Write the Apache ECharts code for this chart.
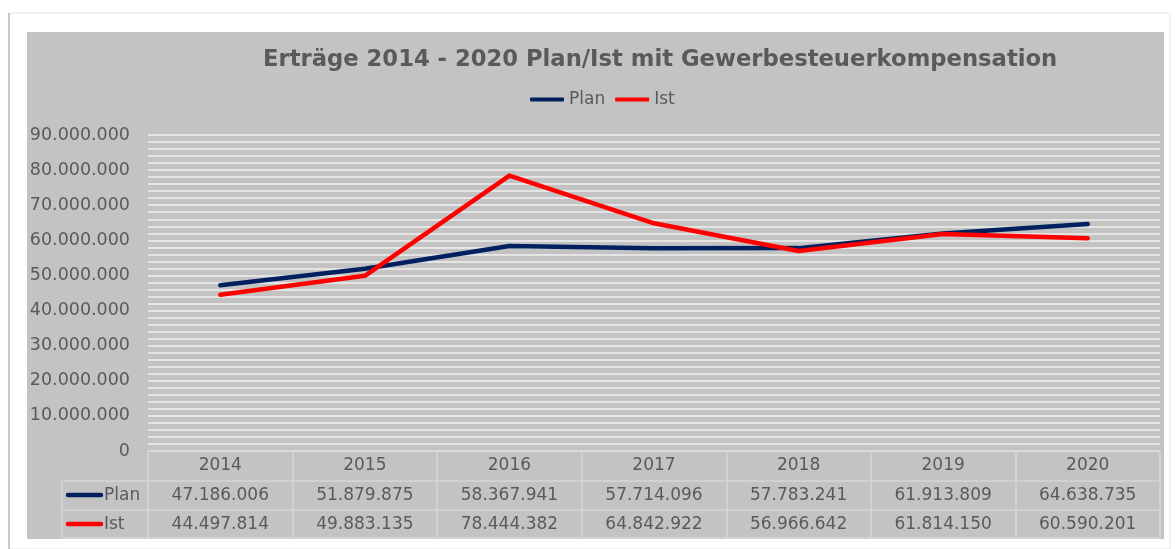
<!DOCTYPE html>
<html>
<head>
<meta charset="utf-8">
<script src="https://cdn.jsdelivr.net/npm/echarts@6/dist/echarts.min.js"></script>
<style>
  html, body { margin: 0; padding: 0; background: #fff; }
  #chart { width: 1176px; height: 549px; }
</style>
</head>
<body>
<div id="chart"></div>
<script>
const years = ['2014', '2015', '2016', '2017', '2018', '2019', '2020']
const plan = [47186006, 51879875, 58367941, 57714096, 57783241, 61913809, 64638735]
const ist = [44497814, 49883135, 78444382, 64842922, 56966642, 61814150, 60590201]

const textColor = '#5a5a5a'
const lineColor = '#d6d6d6'
const font = 'DejaVu Sans'

// german thousands separator
const fmt = v => String(v).replace(/\B(?=(\d{3})+(?!\d))/g, '.')

const myChart = echarts.init(document.getElementById('chart'))

myChart.setOption({
  backgroundColor: '#fff',
  textStyle: { fontFamily: font },
  title: {
    text: 'Erträge 2014 - 2020 Plan/Ist mit Gewerbesteuerkompensation',
    left: 258,
    top: 44,
    textStyle: { fontSize: 22.7, fontWeight: 'bold', color: textColor, fontFamily: font }
  },
  legend: {
    left: 525,
    top: 86,
    itemWidth: 34,
    itemHeight: 4,
    itemGap: 10,
    icon: 'roundRect',
    textStyle: { fontSize: 17, color: textColor, fontFamily: font },
    data: ['Plan', 'Ist']
  },
  grid: { left: 148, right: 16, top: 135, bottom: 98 },
  xAxis: {
    type: 'category',
    data: years,
    boundaryGap: true,
    axisLine: { lineStyle: { color: lineColor, width: 1.5 } },
    axisTick: { show: true, length: 88, lineStyle: { color: lineColor, width: 1.5 } },
    axisLabel: {
      margin: 0,
      interval: 0,
      formatter: (v, i) => `{y|${v}}\n{v|${fmt(plan[i])}}\n{v|${fmt(ist[i])}}`,
      rich: {
        y: { fontSize: 17, lineHeight: 29.5, color: textColor, fontFamily: font },
        v: { fontSize: 17, lineHeight: 29.5, color: textColor, fontFamily: font }
      }
    }
  },
  yAxis: {
    type: 'value',
    min: 0,
    max: 90000000,
    interval: 10000000,
    axisLine: { show: false },
    axisTick: { show: false },
    axisLabel: {
      margin: 18,
      fontSize: 17.5,
      color: textColor,
      fontFamily: font,
      formatter: v => fmt(v)
    },
    splitLine: { lineStyle: { color: '#f0f0f0', width: 1.5 } },
    minorTick: { show: false, splitNumber: 5 },
    minorSplitLine: { show: true, lineStyle: { color: '#f0f0f0', width: 1.5 } }
  },
  series: [
    {
      name: 'Plan',
      type: 'line',
      data: plan,
      symbol: 'none',
      color: '#002060',
      lineStyle: { width: 4.5, cap: 'round', join: 'round' }
    },
    {
      name: 'Ist',
      type: 'line',
      data: ist,
      symbol: 'none',
      color: '#ff0000',
      lineStyle: { width: 4.5, cap: 'round', join: 'round' }
    }
  ],
  graphic: [
    // page frame / shadow
    { type: 'rect', z: -20, shape: { x: 9, y: 13, width: 1161, height: 536 }, style: { fill: '#fff', stroke: '#e4e4e4', lineWidth: 1 } },
    { type: 'line', z: -19, shape: { x1: 9, y1: 13, x2: 9, y2: 549 }, style: { stroke: '#c8c8c8', lineWidth: 2 } },
    // chart area
    { type: 'rect', z: -10, shape: { x: 27, y: 32, width: 1137, height: 507 }, style: { fill: '#c3c3c3' } },
    // table rows
    { type: 'line', shape: { x1: 62, y1: 481, x2: 1160, y2: 481 }, style: { stroke: lineColor, lineWidth: 1.5 } },
    { type: 'line', shape: { x1: 62, y1: 510, x2: 1160, y2: 510 }, style: { stroke: lineColor, lineWidth: 1.5 } },
    { type: 'line', shape: { x1: 62, y1: 538, x2: 1160, y2: 538 }, style: { stroke: lineColor, lineWidth: 1.5 } },
    { type: 'line', shape: { x1: 62, y1: 481, x2: 62, y2: 538 }, style: { stroke: lineColor, lineWidth: 1.5 } },
    // row keys
    { type: 'line', shape: { x1: 68, y1: 495, x2: 101, y2: 495 }, style: { stroke: '#002060', lineWidth: 4.5, lineCap: 'round' } },
    { type: 'text', left: 104, top: 487, style: { text: 'Plan', fontSize: 17, fill: textColor, fontFamily: font } },
    { type: 'line', shape: { x1: 68, y1: 524, x2: 101, y2: 524 }, style: { stroke: '#ff0000', lineWidth: 4.5, lineCap: 'round' } },
    { type: 'text', left: 104, top: 516, style: { text: 'Ist', fontSize: 17, fill: textColor, fontFamily: font } }
  ]
})
</script>
</body>
</html>
